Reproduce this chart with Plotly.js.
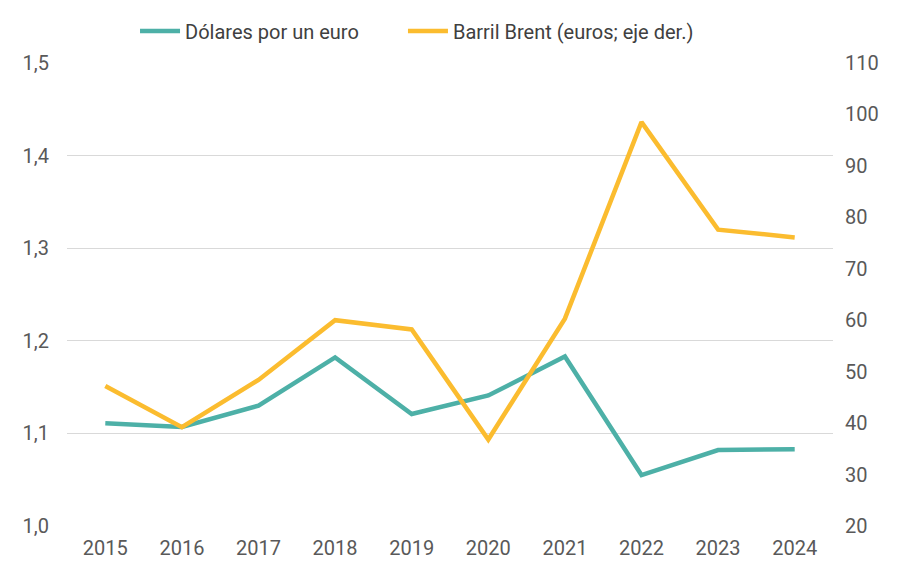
<!DOCTYPE html>
<html>
<head>
<meta charset="utf-8">
<script src="https://cdn.plot.ly/plotly-3.0.1.min.js"></script>
<style>html,body{margin:0;padding:0;background:#fff;}#chart{width:901px;height:561px;}</style>
</head>
<body>
<div id="chart"></div>
<script>
const years = ['2015','2016','2017','2018','2019','2020','2021','2022','2023','2024'];
const dolaresPorEuro = [1.111, 1.107, 1.130, 1.182, 1.121, 1.141, 1.183, 1.055, 1.082, 1.083];
const brentEuros = [47.2, 39.2, 48.4, 60.0, 58.2, 36.8, 60.3, 98.5, 77.6, 76.1];
const leftTicks = [1.0, 1.1, 1.2, 1.3, 1.4, 1.5];
const rightTicks = [20, 30, 40, 50, 60, 70, 80, 90, 100, 110];

const FONT = 'Roboto, "Liberation Sans", sans-serif';
const traces = [
  {x: years, y: dolaresPorEuro, type: 'scatter', mode: 'lines', name: 'Dólares por un euro',
   line: {color: '#4DB0A7', width: 4.5}, yaxis: 'y', legend: 'legend'},
  {x: years, y: brentEuros, type: 'scatter', mode: 'lines', name: 'Barril Brent (euros; eje der.)',
   line: {color: '#FBBC2F', width: 4.5}, yaxis: 'y2', legend: 'legend2'}
];
const legendCommon = {orientation: 'h', xanchor: 'left', y: 1.067, yanchor: 'middle',
  font: {family: FONT, size: 20, color: '#404040'}, itemwidth: 40, bgcolor: 'rgba(0,0,0,0)'};
const layout = {
  width: 901, height: 561,
  margin: {l: 67, r: 68, t: 62, b: 35},
  paper_bgcolor: '#fff', plot_bgcolor: '#fff',
  separators: ',.',
  font: {family: FONT, size: 20, color: '#595959'},
  showlegend: true,
  legend: Object.assign({x: 0.0888}, legendCommon),
  legend2: Object.assign({x: 0.4386}, legendCommon),
  xaxis: {type: 'category', range: [-0.5, 9.5], showgrid: false, zeroline: false, showline: false,
    ticks: '', ticklabelstandoff: 8, tickfont: {family: FONT, size: 20, color: '#595959'}},
  yaxis: {range: [1.0, 1.5], tickvals: leftTicks, tickformat: '.1f', showgrid: true,
    gridcolor: '#d9d9d9', gridwidth: 1, zeroline: false, showline: false, ticks: '', ticklabelstandoff: 17,
    tickfont: {family: FONT, size: 20, color: '#595959'}},
  yaxis2: {range: [20, 110], tickvals: rightTicks, overlaying: 'y', side: 'right', showgrid: false,
    zeroline: false, showline: false, ticks: '', ticklabelstandoff: 11,
    tickfont: {family: FONT, size: 20, color: '#595959'}}
};
Plotly.newPlot('chart', traces, layout, {displayModeBar: false, staticPlot: true});
</script>
</body>
</html>
